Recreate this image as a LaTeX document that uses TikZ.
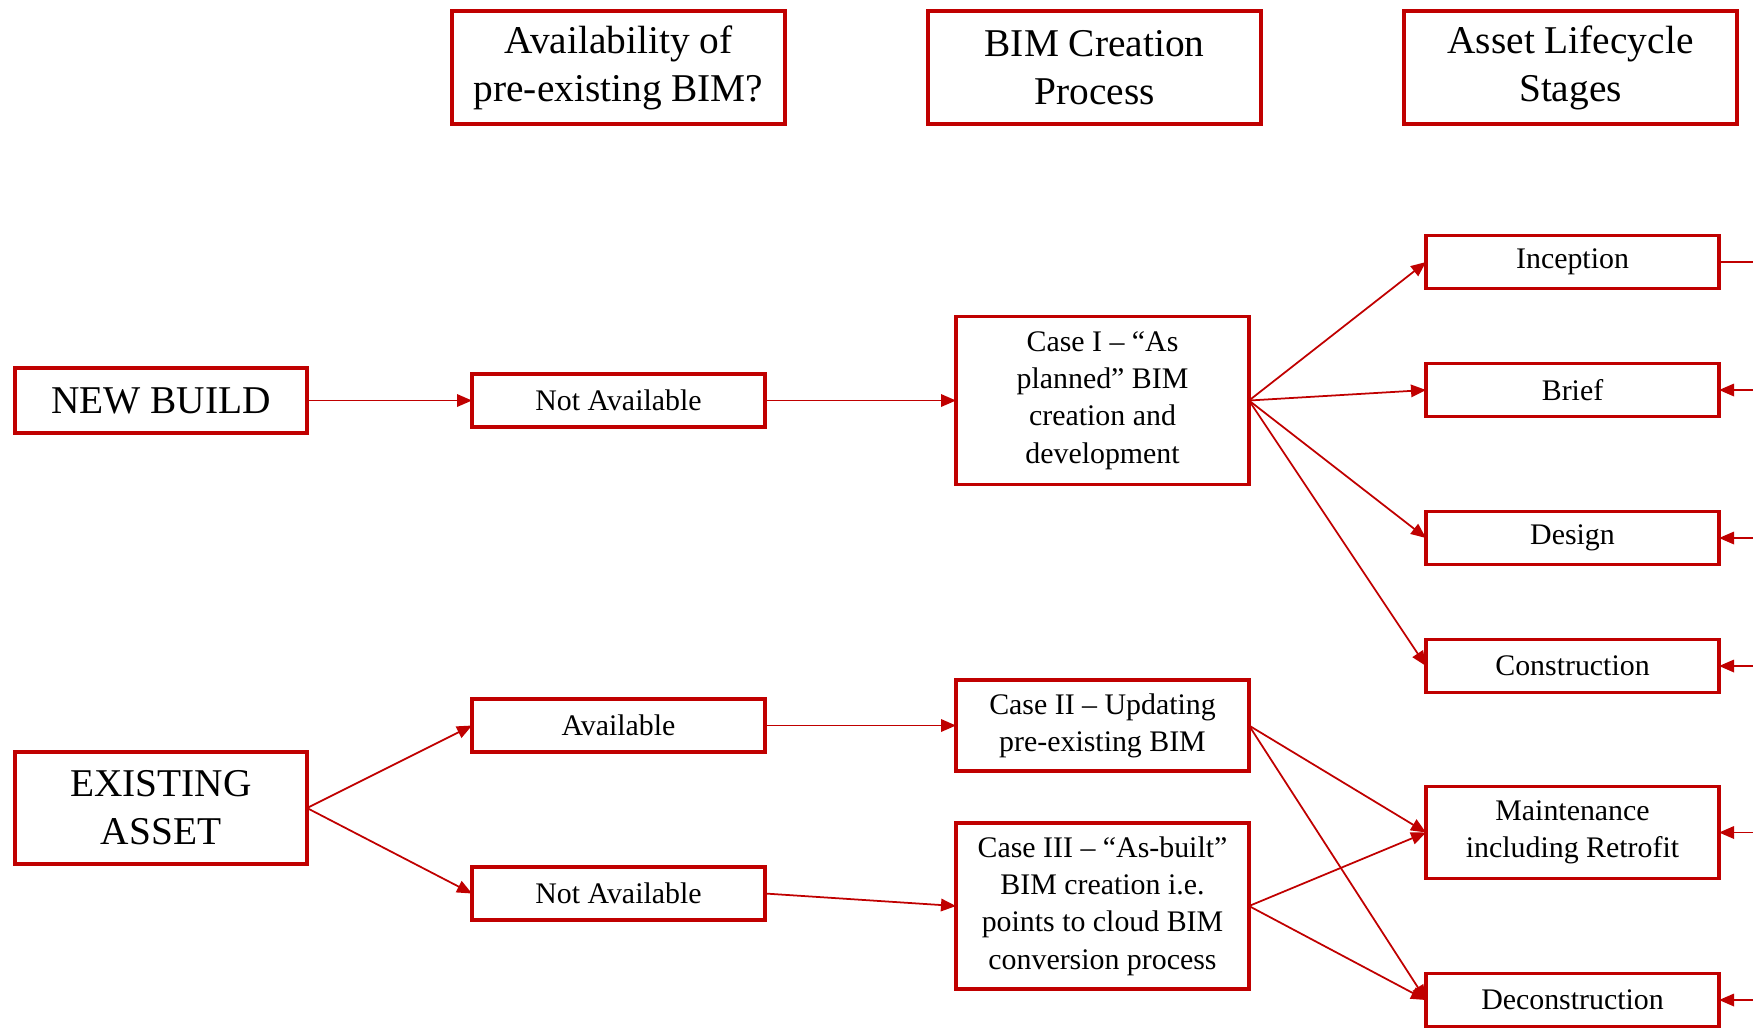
\documentclass[tikz,border=0pt]{standalone}
\usepackage{fontspec}
\setmainfont{Liberation Serif}
\usetikzlibrary{arrows.meta,positioning}
\definecolor{bimred}{RGB}{192,0,0}

\begin{document}
\begin{tikzpicture}[
  headbox/.style={rectangle, draw=bimred, line width=0.9pt, outer sep=0pt, minimum width=3.33cm, minimum height=1.13cm, align=center, font=\fontsize{11.2}{13.7}\selectfont},
  bigbox/.style={rectangle, draw=bimred, line width=0.9pt, outer sep=0pt, minimum width=2.92cm, minimum height=0.65cm, align=center, font=\fontsize{11.2}{13.7}\selectfont},
  smallbox/.style={rectangle, draw=bimred, line width=0.9pt, outer sep=0pt, minimum width=2.93cm, minimum height=0.53cm, align=center, inner sep=2pt, font=\fontsize{8.5}{10.6}\selectfont},
  arrow/.style={draw=bimred, line width=0.5pt, -{Triangle[length=1.5mm,width=1.25mm]}}
]
  \useasboundingbox (0,0) rectangle (17.53,-10.27);

  % left column and availability
  \node[bigbox] (newbuild) at (1.61,-4.005) {NEW BUILD};
  \node[bigbox, minimum height=1.12cm, below=3.19cm of newbuild] (existing) {EXISTING\\ASSET};
  \node[smallbox, right=1.65cm of newbuild] (notavail) {Not Available};
  \node[smallbox, below=2.72cm of notavail] (avail) {Available};
  \node[smallbox, below=1.15cm of avail] (notavailb) {Not Available};

  % headings
  \node[headbox, above=2.5cm of notavail] (availhead) {Availability of\\pre-existing BIM?};
  \node[headbox, right=1.43cm of availhead] (bimhead) {BIM Creation\\Process};
  \node[headbox, right=1.43cm of bimhead] (stagehead) {Asset Lifecycle\\Stages};

  % BIM creation cases
  \node[smallbox, minimum height=1.68cm, right=1.91cm of notavail] (casei) {Case I -- “As\\planned” BIM\\creation and\\development};
  \node[smallbox, minimum height=0.91cm, right=1.91cm of avail] (caseii) {Case II -- Updating\\pre-existing BIM};
  \node[smallbox, minimum height=1.66cm, below=0.52cm of caseii] (caseiii) {Case III -- “As-built”\\BIM creation i.e.\\points to cloud BIM\\conversion process};

  % lifecycle stages
  \node[smallbox, right=1.77cm of casei, yshift=1.385cm] (inception) {Inception};
  \node[smallbox, below=0.75cm of inception] (brief) {Brief};
  \node[smallbox, below=0.95cm of brief] (design) {Design};
  \node[smallbox, below=0.75cm of design] (construction) {Construction};
  \node[smallbox, minimum height=0.92cm, below=0.94cm of construction] (maintenance) {Maintenance\\including Retrofit};
  \node[smallbox, below=0.95cm of maintenance] (deconstruction) {Deconstruction};

  \coordinate (rightedge) at (17.53,0);

  \draw[arrow] (newbuild) -- (notavail);
  \draw[arrow] (notavail) -- (casei);
  \draw[arrow] (existing.east) -- (avail.west);
  \draw[arrow] (existing.east) -- (notavailb.west);
  \draw[arrow] (avail) -- (caseii);
  \draw[arrow] (notavailb.east) -- (caseiii.west);

  \draw[arrow] (casei.east) -- (inception.west);
  \draw[arrow] (casei.east) -- (brief.west);
  \draw[arrow] (casei.east) -- (design.west);
  \draw[arrow] (casei.east) -- (construction.west);
  \draw[arrow] (caseii.east) -- (maintenance.west);
  \draw[arrow] (caseii.east) -- (deconstruction.west);
  \draw[arrow] (caseiii.east) -- (maintenance.west);
  \draw[arrow] (caseiii.east) -- (deconstruction.west);

  % feedback from the right edge
  \draw[bimred, line width=0.5pt] (inception) -- (rightedge |- inception);
  \foreach \s in {brief,design,construction,maintenance,deconstruction}
    \draw[arrow] (rightedge |- \s) -- (\s);
\end{tikzpicture}
\end{document}
